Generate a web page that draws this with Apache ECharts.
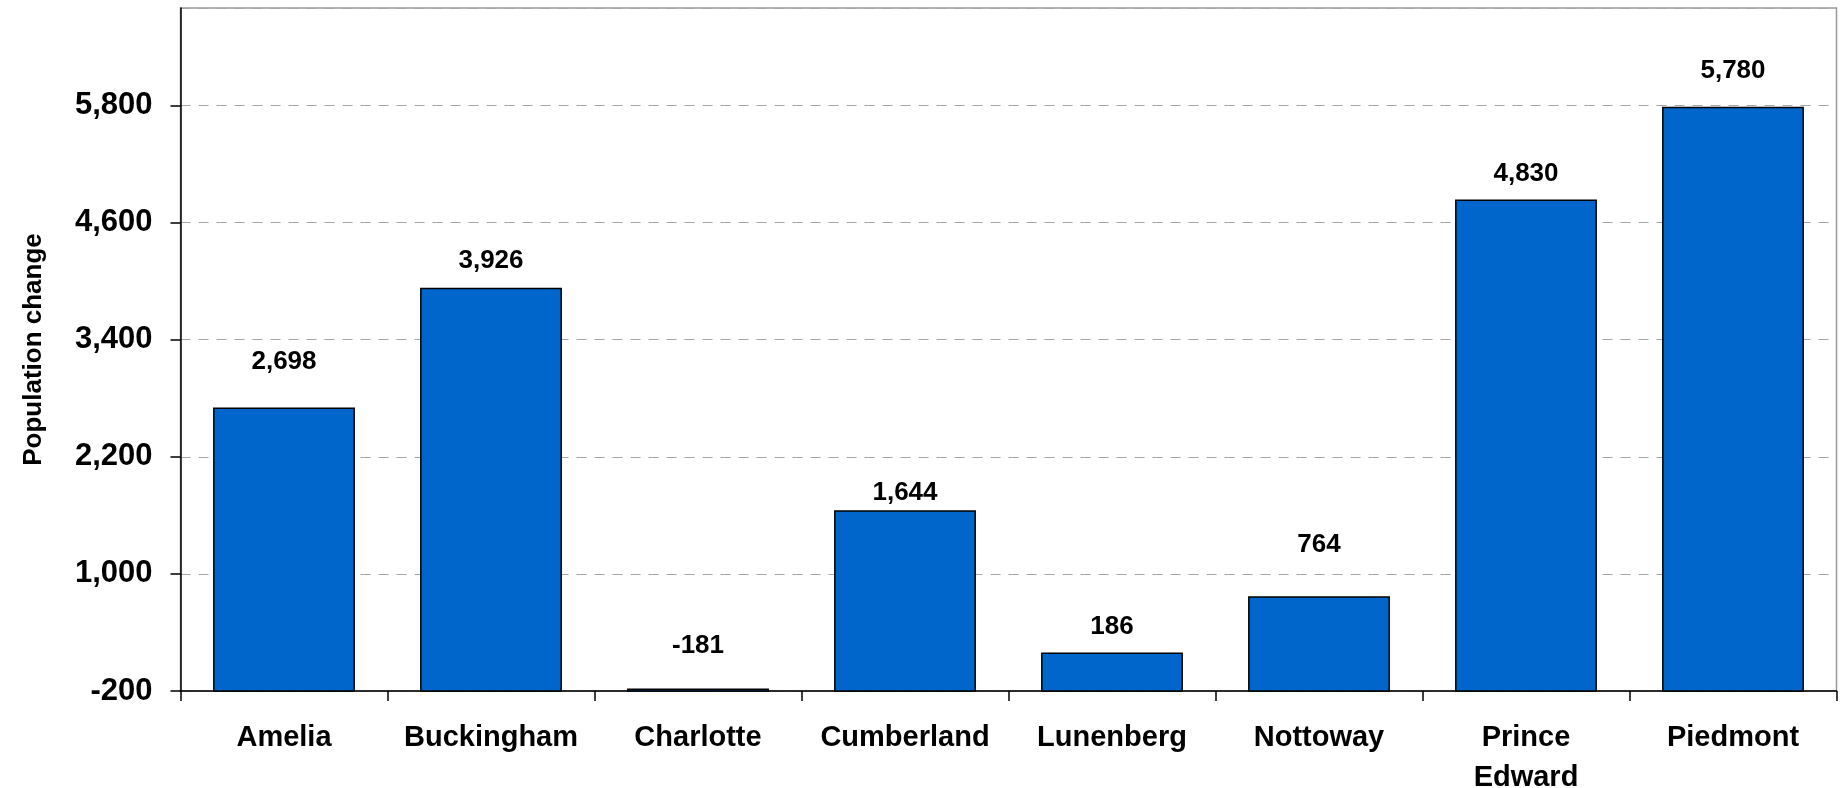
<!DOCTYPE html>
<html>
<head>
<meta charset="utf-8">
<script src="https://cdn.jsdelivr.net/npm/echarts@6/dist/echarts.min.js"></script>
<style>
  html, body { margin: 0; padding: 0; background: #fff; }
  #chart { width: 1843px; height: 788px; }
</style>
</head>
<body>
<div id="chart"></div>
<script>
// ---- data ----
const categories = ['Amelia', 'Buckingham', 'Charlotte', 'Cumberland', 'Lunenberg', 'Nottoway', 'Prince\nEdward', 'Piedmont'];
const populationChange = [2698, 3926, -181, 1644, 186, 764, 4830, 5780];
const yTicks = { min: -200, max: 6800, interval: 1200 };

// ---- style: per-bar label gap above the bar top (px), as placed in the reference ----
const labelGaps = [33, 14, 30, 5, 13, 38, 13, 23];

const FONT = '"Liberation Sans", Arial, sans-serif';
const fmt = v => Number(v).toLocaleString('en-US');

const chart = echarts.init(document.getElementById('chart'), null, { renderer: 'canvas' });

chart.setOption({
  animation: false,
  backgroundColor: '#ffffff',
  grid: {
    left: 180.5, right: 6.5, top: 8, bottom: 97,
    outerBoundsMode: 'none',
    containLabel: false,
    show: true, borderColor: '#999999', borderWidth: 1.5, backgroundColor: 'transparent'
  },
  xAxis: {
    type: 'category',
    data: categories,
    boundaryGap: true,
    axisLine: { show: true, onZero: false, lineStyle: { color: '#000', width: 1.5 } },
    axisTick: { show: true, alignWithLabel: false, inside: false, length: 10, lineStyle: { color: '#000', width: 1.5 } },
    axisLabel: {
      interval: 0, margin: 27,
      fontFamily: FONT, fontWeight: 'bold', fontSize: 29, color: '#000', lineHeight: 40
    },
    splitLine: { show: false }
  },
  yAxis: {
    type: 'value',
    min: yTicks.min, max: yTicks.max, interval: yTicks.interval,
    name: 'Population change',
    nameLocation: 'middle',
    nameRotate: 90,
    nameGap: 134,
    nameTextStyle: { fontFamily: FONT, fontWeight: 'bold', fontSize: 26, color: '#000' },
    axisLine: { show: true, lineStyle: { color: '#000', width: 1.5 } },
    axisTick: { show: true, length: 10, lineStyle: { color: '#000', width: 1.5 } },
    axisLabel: {
      showMaxLabel: false,
      margin: 28,
      fontFamily: FONT, fontWeight: 'bold', fontSize: 31, color: '#000',
      formatter: v => fmt(v)
    },
    splitLine: { show: true, lineStyle: { color: '#a6a6a6', width: 1.2, type: [10, 8] } }
  },
  series: [{
    type: 'custom',
    data: categories.map((c, i) => [i, populationChange[i]]),
    encode: { x: 0, y: 1 },
    clip: false,
    renderItem: function (params, api) {
      const idx = api.value(0);
      const v = api.value(1);
      const topPt = api.coord([idx, v]);
      const basePt = api.coord([idx, yTicks.min]);
      const w = api.size([1, 0])[0] * 0.678;
      return {
        type: 'rect',
        shape: { x: topPt[0] - w / 2, y: topPt[1], width: w, height: basePt[1] - topPt[1] },
        style: { fill: '#0066cc', stroke: '#000', lineWidth: 1.5 },
        textContent: {
          style: {
            text: fmt(v),
            font: 'bold 26px ' + FONT,
            fill: '#000'
          }
        },
        textConfig: { position: 'top', distance: labelGaps[params.dataIndex] }
      };
    }
  }]
});
</script>
</body>
</html>
